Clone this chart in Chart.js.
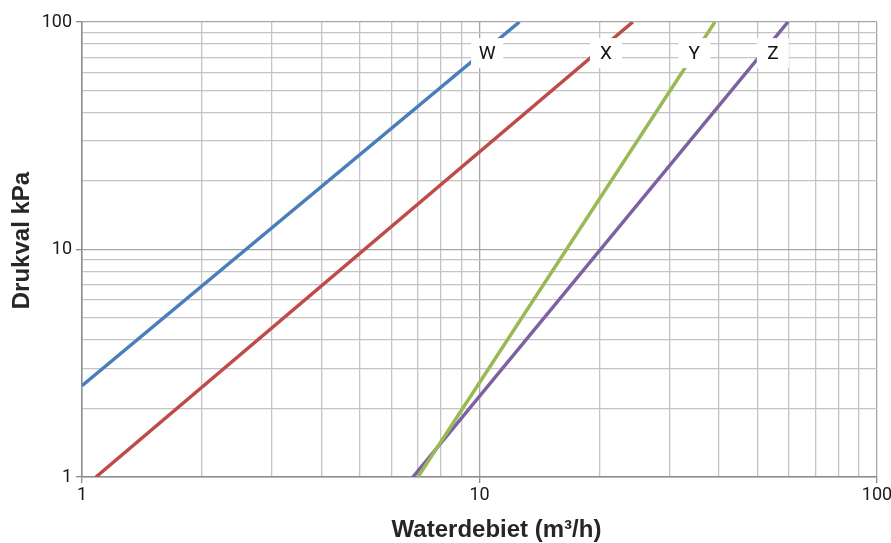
<!DOCTYPE html>
<html>
<head>
<meta charset="utf-8">
<script src="https://cdn.jsdelivr.net/npm/chart.js@4"></script>
<style>
  html, body { margin: 0; padding: 0; background: #fff; }
  #wrap { width: 891px; height: 543px; }
</style>
</head>
<body>
<div id="wrap"><canvas id="chart"></canvas></div>
<script>
// curve end points (flow m3/h, pressure drop kPa)
const seriesNames = ["W", "X", "Y", "Z"];
const flowW = [1, 12.6];
const dropW = [2.52, 100];
const flowX = [1.084, 24.3];
const dropX = [1, 100];
const flowY = [7.0, 39.1];
const dropY = [1, 100];
const flowZ = [6.8, 59.7];
const dropZ = [1, 100];
const colors = ["#4a7ebb", "#be4b48", "#98b954", "#7d60a0"];

// label positions
const labelFlow = [10.45, 20.8, 34.7, 54.7];
const labelDrop = [73, 73, 73, 73];

const tickLabels = [1, 10, 100];
const gridValues = [1, 2, 3, 4, 5, 6, 7, 8, 9, 10, 20, 30, 40, 50, 60, 70, 80, 90, 100];

const xTitle = "Waterdebiet (m³/h)";
const yTitle = "Drukval kPa";

const flows = [flowW, flowX, flowY, flowZ];
const drops = [dropW, dropX, dropY, dropZ];

const datasets = seriesNames.map(function (name, i) {
  return {
    label: name,
    data: flows[i].map(function (f, j) { return { x: f, y: drops[i][j] }; }),
    borderColor: colors[i],
    borderWidth: 3.5,
    pointRadius: 0,
    fill: false,
    tension: 0,
  };
});

const curveLabels = {
  id: "curveLabels",
  afterDatasetsDraw(chart) {
    const ctx = chart.ctx;
    const xs = chart.scales.x, ys = chart.scales.y;
    ctx.save();
    ctx.font = "19px Roboto, sans-serif";
    ctx.textAlign = "center";
    ctx.textBaseline = "middle";
    seriesNames.forEach(function (name, i) {
      const px = xs.getPixelForValue(labelFlow[i]);
      const py = ys.getPixelForValue(labelDrop[i]);
      ctx.fillStyle = "#fff";
      ctx.fillRect(px - 16, py - 15, 32, 30);
      ctx.fillStyle = "#111";
      ctx.fillText(name, px, py + 1);
    });
    ctx.restore();
  },
};

// axis titles sit a bit off-centre in the original, so draw them here
const axisTitles = {
  id: "axisTitles",
  afterDraw(chart) {
    const ctx = chart.ctx;
    const a = chart.chartArea;
    ctx.save();
    ctx.font = "bold 24px 'Liberation Sans', Arial, sans-serif";
    ctx.fillStyle = "#262626";
    ctx.textAlign = "center";
    ctx.textBaseline = "alphabetic";
    ctx.fillText(xTitle, (a.left + a.right) / 2 + 17, 537);
    ctx.translate(28.5, (a.top + a.bottom) / 2 - 9);
    ctx.rotate(-Math.PI / 2);
    ctx.fillText(yTitle, 0, 0);
    ctx.restore();
  },
};

function gridSetup(scale) {
  scale.ticks = gridValues.map(function (v) {
    return { value: v, major: tickLabels.indexOf(v) >= 0 };
  });
}

function gridColor(c) {
  return tickLabels.indexOf(c.tick.value) >= 0 ? "#a6a6a6" : "#c4c4c4";
}
function tickColor(c) {
  return tickLabels.indexOf(c.tick.value) >= 0 ? "#8c8c8c" : "rgba(0,0,0,0)";
}
function tickText(v) {
  return tickLabels.indexOf(v) >= 0 ? String(v) : "";
}

new Chart(document.getElementById("chart"), {
  type: "line",
  data: { datasets: datasets },
  plugins: [curveLabels, axisTitles],
  options: {
    responsive: true,
    maintainAspectRatio: false,
    animation: false,
    layout: { padding: { top: 22, right: 14, left: 0, bottom: 0 } },
    plugins: {
      legend: { display: false },
      tooltip: { enabled: false },
    },
    scales: {
      x: {
        type: "logarithmic",
        min: 1,
        max: 100,
        afterBuildTicks: gridSetup,
        afterFit: function (s) {
          s.height = 66;
          s.paddingLeft = 0;
          s.paddingRight = 0;
        },
        grid: { color: gridColor, tickColor: tickColor, tickLength: 6, lineWidth: 1.3 },
        border: { color: "#8c8c8c", width: 1.5 },
        ticks: {
          autoSkip: false,
          maxRotation: 0,
          padding: 2,
          color: "#1a1a1a",
          font: { family: "Roboto, sans-serif", size: 18 },
          callback: tickText,
        },
      },
      y: {
        type: "logarithmic",
        min: 1,
        max: 100,
        afterBuildTicks: gridSetup,
        afterFit: function (s) {
          s.width = 82;
          s.paddingTop = 0;
          s.paddingBottom = 0;
        },
        grid: { color: gridColor, tickColor: tickColor, tickLength: 6, lineWidth: 1.3 },
        border: { color: "#8c8c8c", width: 1.5 },
        ticks: {
          autoSkip: false,
          padding: 4,
          color: "#1a1a1a",
          font: { family: "Roboto, sans-serif", size: 18 },
          callback: tickText,
        },
      },
    },
  },
});
</script>
</body>
</html>
